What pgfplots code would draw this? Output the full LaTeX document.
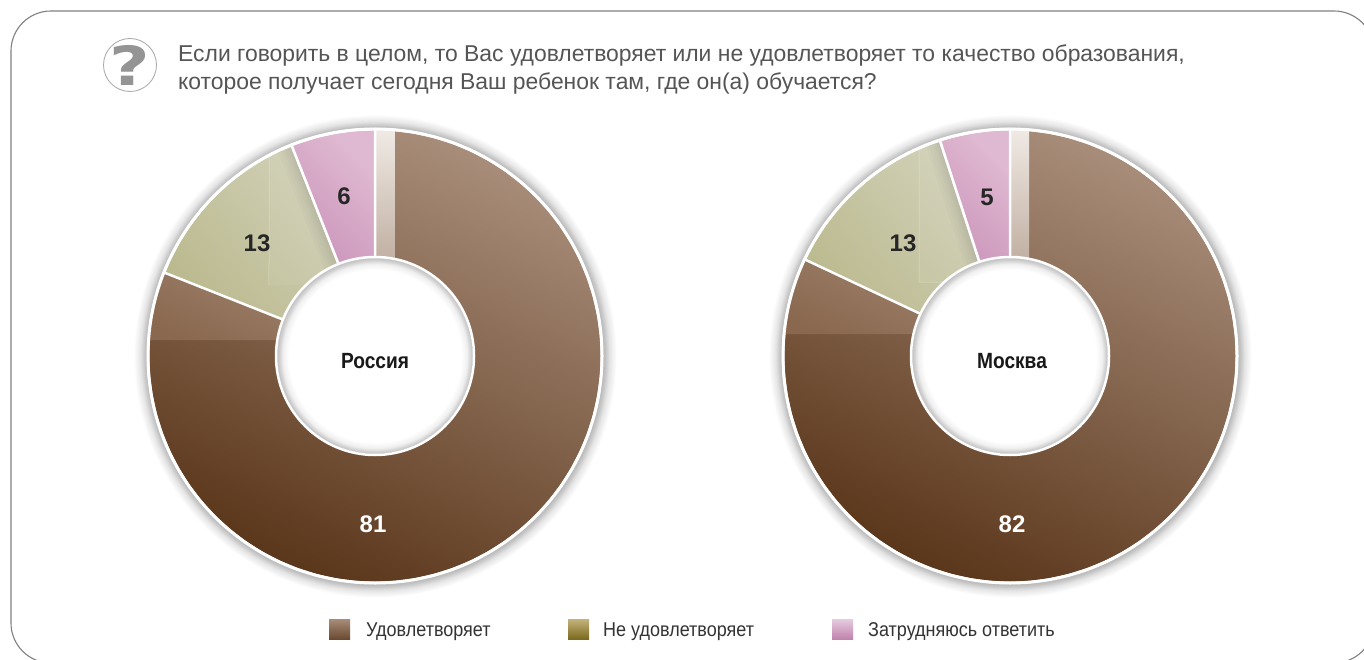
\documentclass[border=0pt]{standalone}
\usepackage{fontspec}
\usepackage{graphicx}
\usepackage{pgfplots}
\pgfplotsset{compat=1.18}
\usepgfplotslibrary{polar}
\setmainfont{Liberation Sans}
\newfontfamily\qfont{DejaVu Sans}
\definecolor{maindark}{HTML}{5A361A}
\definecolor{mainlight}{HTML}{A88D7A}
\definecolor{pcdark}{HTML}{8A684F}
\definecolor{pclight}{HTML}{9C7F6A}
\definecolor{oldark}{HTML}{B9B78A}
\definecolor{ollight}{HTML}{D3D3BC}
\definecolor{pkdark}{HTML}{C082AE}
\definecolor{pklight}{HTML}{DFB8D1}
\definecolor{sttop}{HTML}{F0EAE5}
\definecolor{stbot}{HTML}{BEAC9E}
\definecolor{txt}{HTML}{555555}
\pgfdeclareradialshading{outshadow}{\pgfpointorigin}{color(0bp)=(black!30);color(23.45bp)=(black!30);color(23.8bp)=(black!24);color(24.3bp)=(black!10);color(25bp)=(white);color(50bp)=(white)}
\pgfdeclareradialshading{holeshadow}{\pgfpointorigin}{color(0bp)=(white);color(22bp)=(white);color(23.5bp)=(black!6);color(24.4bp)=(black!18);color(25bp)=(black!24);color(50bp)=(black!24)}
\pgfplotsset{donut/.style={scale only axis,width=454pt,height=454pt,anchor=center,hide axis,clip=false,xmin=0,xmax=360,ymin=0,ymax=227},
 wmain/.style={no markers,draw=white,line width=2.5pt,line join=round,top color=mainlight,bottom color=maindark,shading angle=-25},
 wpiece/.style={no markers,draw=none,top color=pclight,bottom color=pcdark,shading angle=-25},
 wstripe/.style={no markers,draw=none,top color=sttop,bottom color=stbot},
 wolive/.style={no markers,draw=white,line width=2.5pt,line join=round,top color=ollight,bottom color=oldark,shading angle=-50},
 wpink/.style={no markers,draw=white,line width=2.5pt,line join=round,top color=pklight,bottom color=pkdark,shading angle=-45},
 wlite/.style={no markers,draw=none,fill=white,fill opacity=.05},
 wedge/.style={no markers,draw=white,draw opacity=.4,line width=.5pt},
 wshadow/.style={no markers,draw=black,draw opacity=.016,line width=#1}}
\begin{document}
\begin{tikzpicture}[x=1pt,y=-1pt]
\useasboundingbox (0,0) rectangle (1364,660);
\clip (0,0) rectangle (1364,660);
\fill[white] (0,0) rectangle (1364,660);
\draw[draw=black!50,line width=1.1pt,rounded corners=40pt] (11,11) rectangle (1374,663);
% question icon
\draw[black!35,line width=.8pt,fill=white] (130,65) circle (26.5);
\node[text=black!42,font=\qfont\fontsize{50}{50}\bfseries,inner sep=0] at (130,65) {\scalebox{1.4}[1.08]{?}};
% title
\node[anchor=base west,inner sep=0,text=txt,font=\fontsize{22.9}{22.9}\selectfont] at (178,62) {Если говорить в целом, то Вас удовлетворяет или не удовлетворяет то качество образования,};
\node[anchor=base west,inner sep=0,text=txt,font=\fontsize{22.9}{22.9}\selectfont] at (178,90) {которое получает сегодня Ваш ребенок там, где он(а) обучается?};
% shadows behind donuts
\shade[shading=outshadow] (375,356) circle (241.5);
\shade[shading=outshadow] (1010,356) circle (241.5);
% --- Russia
\begin{polaraxis}[donut,at={(375pt,-356pt)}]
\addplot[wmain] coordinates {(90,0)(90,227)(85,227)(80,227)(75,227)(70,227)(65,227)(60,227)(55,227)(50,227)(45,227)(40,227)(35,227)(30,227)(25,227)(20,227)(15,227)(10,227)(5,227)(0,227)(355,227)(350,227)(345,227)(340,227)(335,227)(330,227)(325,227)(320,227)(315,227)(310,227)(305,227)(300,227)(295,227)(290,227)(285,227)(280,227)(275,227)(270,227)(265,227)(260,227)(255,227)(250,227)(245,227)(240,227)(235,227)(230,227)(225,227)(220,227)(215,227)(210,227)(205,227)(200,227)(195,227)(190,227)(185,227)(180,227)(175,227)(170,227)(165,227)(160,227)(158.4,227)(158.4,0)(90,0)};
\addplot[wpiece] coordinates {(158.4,80)(158.4,227)(160,227)(165,227)(170,227)(175,227)(175.96,227)(170.55,97.5)(158.4,80)};
\addplot[wstripe] coordinates {(90,90)(90,227)(87.5,227)(84.95,227)(77.2,90)(90,90)};
\addplot[wolive] coordinates {(158.4,0)(158.4,227)(155,227)(150,227)(145,227)(140,227)(135,227)(130,227)(125,227)(120,227)(115,227)(111.6,227)(111.6,0)(158.4,0)};
\addplot[wlite] coordinates {(117.8,227)(115,227)(111.6,227)(111.6,90)(130.2,93)(146.2,127.6)(117.8,227)};
\addplot[wedge] coordinates {(117.8,227)(146.2,127.6)};
\addplot[wshadow=30pt] coordinates {(111.6,99)(111.6,225)};
\addplot[wshadow=24pt] coordinates {(111.6,99)(111.6,225)};
\addplot[wshadow=18pt] coordinates {(111.6,99)(111.6,225)};
\addplot[wshadow=13pt] coordinates {(111.6,99)(111.6,225)};
\addplot[wshadow=9pt] coordinates {(111.6,99)(111.6,225)};
\addplot[wshadow=5pt] coordinates {(111.6,99)(111.6,225)};
\addplot[wpink] coordinates {(111.6,0)(111.6,227)(110,227)(105,227)(100,227)(95,227)(90,227)(90,0)(111.6,0)};
\end{polaraxis}
\draw[white,line width=3pt] (375,356) circle (227);
\shade[shading=holeshadow] (375,356) circle (98);
\draw[white,line width=2.5pt] (375,356) circle (99);
% --- Moscow
\begin{polaraxis}[donut,at={(1010pt,-356pt)}]
\addplot[wmain] coordinates {(90,0)(90,227)(85,227)(80,227)(75,227)(70,227)(65,227)(60,227)(55,227)(50,227)(45,227)(40,227)(35,227)(30,227)(25,227)(20,227)(15,227)(10,227)(5,227)(0,227)(355,227)(350,227)(345,227)(340,227)(335,227)(330,227)(325,227)(320,227)(315,227)(310,227)(305,227)(300,227)(295,227)(290,227)(285,227)(280,227)(275,227)(270,227)(265,227)(260,227)(255,227)(250,227)(245,227)(240,227)(235,227)(230,227)(225,227)(220,227)(215,227)(210,227)(205,227)(200,227)(195,227)(190,227)(185,227)(180,227)(175,227)(170,227)(165,227)(160,227)(155,227)(154.8,227)(154.8,0)(90,0)};
\addplot[wpiece] coordinates {(154.8,80)(154.8,227)(155,227)(160,227)(165,227)(170,227)(174.44,227)(167,97.5)(154.8,80)};
\addplot[wstripe] coordinates {(90,90)(90,227)(87.5,227)(85.2,227)(77.7,90)(90,90)};
\addplot[wolive] coordinates {(154.8,0)(154.8,227)(150,227)(145,227)(140,227)(135,227)(130,227)(125,227)(120,227)(115,227)(110,227)(108,227)(108,0)(154.8,0)};
\addplot[wlite] coordinates {(113.6,227)(110,227)(108,227)(108,90)(124,89.3)(140.9,117)(113.6,227)};
\addplot[wedge] coordinates {(113.6,227)(140.9,117)(124,89.3)};
\addplot[wshadow=30pt] coordinates {(108,99)(108,225)};
\addplot[wshadow=24pt] coordinates {(108,99)(108,225)};
\addplot[wshadow=18pt] coordinates {(108,99)(108,225)};
\addplot[wshadow=13pt] coordinates {(108,99)(108,225)};
\addplot[wshadow=9pt] coordinates {(108,99)(108,225)};
\addplot[wshadow=5pt] coordinates {(108,99)(108,225)};
\addplot[wpink] coordinates {(108,0)(108,227)(105,227)(100,227)(95,227)(90,227)(90,0)(108,0)};
\end{polaraxis}
\draw[white,line width=3pt] (1010,356) circle (227);
\shade[shading=holeshadow] (1010,356) circle (98);
\draw[white,line width=2.5pt] (1010,356) circle (99);
% labels
\tikzset{lab/.style={font=\fontsize{24}{24}\bfseries,text=#1,inner sep=0}}
\node[lab=white] at (373,524) {81};
\node[lab=black!85] at (257,243) {13};
\node[lab=black!85] at (344,196) {6};
\node[lab=white] at (1012,524) {82};
\node[lab=black!85] at (903,243) {13};
\node[lab=black!85] at (987,197) {5};
\tikzset{labn/.style={font=\fontsize{22}{22}\bfseries,text=black!90,inner sep=0}}
\node[labn] at (375,361) {\scalebox{.87}[1]{Россия}};
\node[labn] at (1012,361) {\scalebox{.87}[1]{Москва}};
% legend
\shade[top color=mainlight,bottom color=maindark!90!white] (329,619) rectangle (350,639);
\shade[top color={rgb,255:red,196;green,180;blue,124},bottom color={rgb,255:red,124;green,106;blue,29}] (568,619) rectangle (589,639);
\shade[top color={rgb,255:red,230;green,204;blue,222},bottom color=pkdark] (832,619) rectangle (853,639);
\tikzset{leg/.style={anchor=base west,inner sep=0,font=\fontsize{20}{20}\selectfont,text=black!80}}
\node[leg] at (366,636) {\scalebox{.9}[1]{Удовлетворяет}};
\node[leg] at (603,636) {\scalebox{.9}[1]{Не удовлетворяет}};
\node[leg] at (868,636) {\scalebox{.9}[1]{Затрудняюсь ответить}};
\end{tikzpicture}
\end{document}
